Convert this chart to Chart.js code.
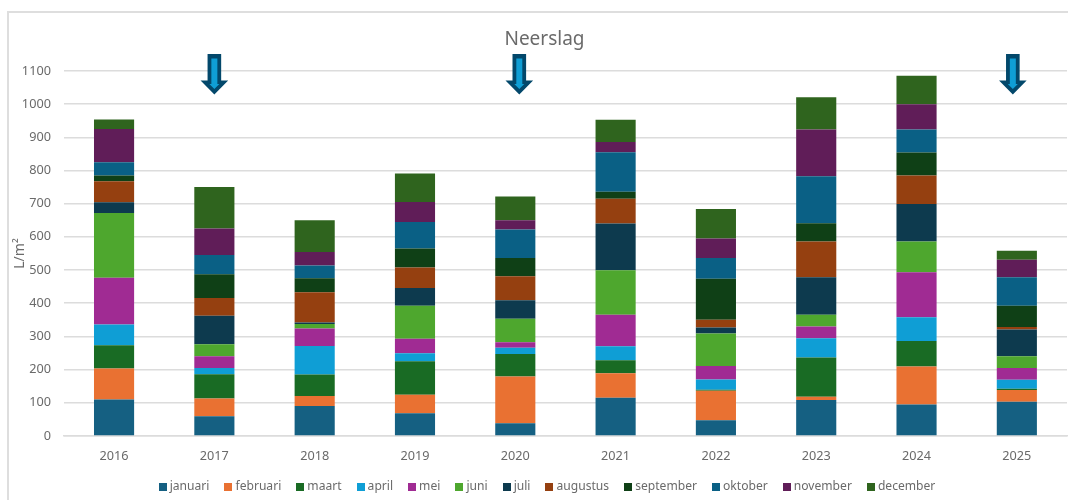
<!DOCTYPE html>
<html><head><meta charset="utf-8">
<script src="https://cdn.jsdelivr.net/npm/chart.js@4"></script>
<style>
html,body{margin:0;padding:0;background:#fff;overflow:hidden}
#wrap{position:relative;width:1068px;height:500px}
#frame{position:absolute;left:7px;top:11px;width:1061px;height:489px;border-left:2px solid #dedede;border-top:2px solid #dedede;box-sizing:border-box}
canvas{position:absolute;left:0;top:0}
</style></head><body>
<div id="wrap"><div id="frame"></div><canvas id="c" width="1068" height="500"></canvas></div>
<script>
const years=['2016','2017','2018','2019','2020','2021','2022','2023','2024','2025'];
const januari =[110,59,90,68,38,115,47,108,95,103];
const februari=[93,54,30,56,141,74,89,10,114,35];
const maart   =[70,73,65,101,68,39,3,118,77,4];
const april   =[63,19,86,24,19,42,31,58,72,27];
const mei     =[141,35,53,44,16,95,41,36,135,36];
const juni    =[195,36,13,99,71,134,98,35,93,35];
const juli    =[32,86,5,54,56,141,18,113,113,81];
const augustus=[64,54,91,62,72,75,23,108,86,7];
const september=[17,71,42,57,55,21,124,55,69,64];
const oktober =[40,58,39,80,86,119,62,142,70,86];
const november=[100,80,40,60,28,31,59,141,76,53];
const december=[29,125,96,86,72,67,89,97,86,27];
const monthNames=['januari','februari','maart','april','mei','juni','juli','augustus','september','oktober','november','december'];
const monthValues=[januari,februari,maart,april,mei,juni,juli,augustus,september,oktober,november,december];
const monthColors=['#156082','#E97132','#196B24','#0F9ED5','#A02B93','#4EA72E','#0D3A4E','#954010','#0F4016','#0A6085','#601D58','#2F641E'];
const arrowPositions=[1,4.04,8.96];
const arrowTopValue=1151;
const FONT='"Noto Sans"';
const TXT='#6a6a6a';
const GRID='#dcdcdc';
function swatch(color){
  const s=document.createElement('canvas');s.width=8;s.height=8;
  const g=s.getContext('2d');g.fillStyle=color;g.fillRect(0,0,8,8);
  return s;
}
const legendShift={id:'legendShift',beforeDraw(ch){ch.legend.left+=4;ch.legend.right+=4;}};
const arrows={id:'arrows',afterDraw(ch){
  const g=ch.ctx,top=ch.scales.y.getPixelForValue(arrowTopValue);
  arrowPositions.forEach(p=>{
    const x=ch.scales.x.getPixelForValue(p);
    g.save();
    g.fillStyle='#03486B';
    g.beginPath();
    g.moveTo(x-6.8,top);g.lineTo(x+6.8,top);g.lineTo(x+6.8,top+26.5);g.lineTo(x+13.8,top+26.5);
    g.lineTo(x,top+40.5);g.lineTo(x-13.8,top+26.5);g.lineTo(x-6.8,top+26.5);g.closePath();g.fill();
    g.fillStyle='#0F9ED5';
    g.beginPath();
    g.moveTo(x-3,top+4.5);g.lineTo(x+3,top+4.5);g.lineTo(x+3,top+30);g.lineTo(x+5,top+30);
    g.lineTo(x,top+35);g.lineTo(x-5,top+30);g.lineTo(x-3,top+30);g.closePath();g.fill();
    g.restore();
  });
}};
new Chart(document.getElementById('c'),{
  type:'bar',
  data:{labels:years,datasets:monthNames.map((n,i)=>({label:n,data:monthValues[i],backgroundColor:monthColors[i],borderWidth:0,categoryPercentage:0.4,barPercentage:1}))},
  plugins:[arrows,legendShift],
  options:{
    responsive:false,animation:false,
    layout:{padding:{top:28.6,left:22,right:1,bottom:-3}},
    plugins:{
      tooltip:{enabled:false},
      title:{display:true,text:'Neerslag',color:TXT,font:{family:FONT,size:19,weight:'normal',lineHeight:1.2},padding:{top:0,bottom:19.6}},
      legend:{position:'bottom',labels:{usePointStyle:true,pointStyleWidth:2,boxWidth:8,boxHeight:8,padding:18,color:TXT,font:{family:FONT,size:12.1},
        generateLabels(ch){
          return Chart.defaults.plugins.legend.labels.generateLabels(ch).map((it,i)=>Object.assign(it,{pointStyle:swatch(monthColors[i])}));
        }}}
    },
    scales:{
      x:{stacked:true,grid:{display:false},border:{display:true,color:GRID,width:1.5},
        ticks:{color:TXT,font:{family:FONT,size:12.7},padding:5,maxRotation:0},
        afterFit(s){s.height=27;}},
      y:{stacked:true,min:0,max:1100,
        grid:{color:GRID,lineWidth:1.5,drawTicks:false},border:{display:false},
        ticks:{stepSize:100,color:TXT,font:{family:FONT,size:12.7},padding:13,callback:v=>String(v)},
        title:{display:true,text:'L/m²',color:TXT,font:{family:FONT,size:14},padding:{top:-10,bottom:0}},
        afterFit(s){s.width=41.9;}}
    }
  }
});
</script></body></html>
